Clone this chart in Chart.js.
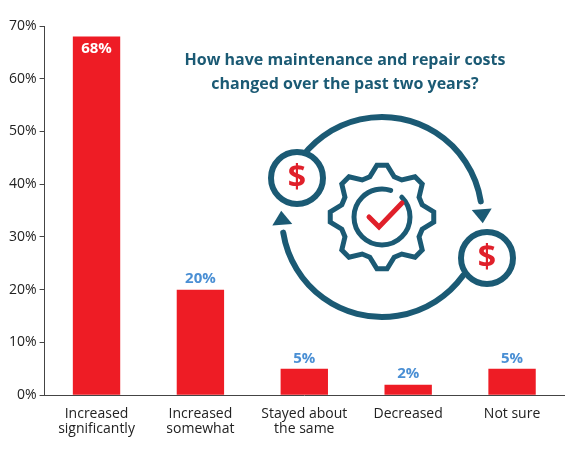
<!DOCTYPE html>
<html><head><script src="https://cdn.jsdelivr.net/npm/chart.js@4"></script>
<style>html,body{margin:0;background:#fff}#w{width:579px;height:450px}</style></head>
<body><div id="w"><canvas id="c"></canvas></div>
<script>
const categories=[["Increased","significantly"],["Increased","somewhat"],["Stayed about","the same"],["Decreased"],["Not sure"]];
const values=[68,20,5,2,5];
const TEAL='#1b5a74';
const FONT='"Liberation Sans Narrow", "Open Sans", sans-serif';
const decor={id:'decor',afterDraw(ch){
 const c=ch.ctx;c.save();
 const m=ch.getDatasetMeta(0);
 c.font='bold 15px "Open Sans", sans-serif';c.textAlign='center';
 m.data.forEach((b,i)=>{
  if(i===0){c.fillStyle='#fff';c.textBaseline='top';c.fillText(values[i]+'%',b.x,b.y+5);}
  else{c.fillStyle='#4a8fd4';c.textBaseline='bottom';c.fillText(values[i]+'%',b.x,b.y-3);}
 });
 c.fillStyle=TEAL;c.font='bold 16px "Open Sans", sans-serif';c.textBaseline='middle';
 c.fillText('How have maintenance and repair costs',345,60);
 c.fillText('changed over the past two years?',345,84);
 const cx=382,cy=217;
 c.strokeStyle=TEAL;c.lineWidth=6;c.lineCap='round';
 const R=100;
 c.beginPath();c.arc(cx,cy,R,-Math.PI*0.82,-Math.PI*0.05);c.stroke();
 c.beginPath();c.arc(cx,cy,R,Math.PI*0.2,Math.PI*0.95);c.stroke();
 function head(a,dir){const x=cx+R*Math.cos(a),y=cy+R*Math.sin(a);const t=a+dir*Math.PI/2;
  c.fillStyle=TEAL;c.beginPath();
  c.moveTo(x+14*Math.cos(t),y+14*Math.sin(t));
  c.lineTo(x+10*Math.cos(a),y+10*Math.sin(a));c.lineTo(x-10*Math.cos(a),y-10*Math.sin(a));c.closePath();c.fill();}
 head(-Math.PI*0.05+0.08,1);head(Math.PI*0.95+0.08,1);
 c.lineWidth=5;c.beginPath();
 const n=8,ro=52,ri=42;
 for(let i=0;i<n*4;i++){const a=i*Math.PI*2/(n*4)-Math.PI/(n*4);const r=(Math.floor(i/2)%2===0)?ro:ri;
  const x=cx+r*Math.cos(a),y=cy+r*Math.sin(a);if(i)c.lineTo(x,y);else c.moveTo(x,y);}
 c.closePath();c.stroke();
 c.beginPath();c.arc(cx,cy,28,-Math.PI*0.25,Math.PI*1.6);c.stroke();
 c.strokeStyle='#e0202a';c.lineWidth=5;c.beginPath();c.moveTo(cx-13,cy);c.lineTo(cx-3,cy+10);c.lineTo(cx+20,cy-14);c.stroke();
 [[297,178],[487,258]].forEach(([x,y])=>{
  c.fillStyle='#fff';c.strokeStyle=TEAL;c.lineWidth=6;c.beginPath();c.arc(x,y,26,0,Math.PI*2);c.fill();c.stroke();
  c.fillStyle='#e0202a';c.font='bold 32px "Open Sans", sans-serif';c.textAlign='center';c.textBaseline='middle';c.fillText('$',x,y+1);
 });
 c.restore();}};
new Chart(document.getElementById('c'),{type:'bar',
 data:{labels:categories,datasets:[{data:values,backgroundColor:'#ee1c25',barPercentage:0.95,categoryPercentage:0.48}]},
 options:{responsive:true,maintainAspectRatio:false,animation:false,
  layout:{padding:{top:26,right:15,left:6,bottom:10}},
  plugins:{legend:{display:false},tooltip:{enabled:false}},
  scales:{y:{min:0,max:70,ticks:{stepSize:10,callback:v=>v+'%',color:'#222',font:{size:14,family:FONT}},
    grid:{drawOnChartArea:false,color:'#444',tickLength:5},border:{color:'#444'}},
   x:{ticks:{color:'#222',font:{size:14,family:FONT,lineHeight:1.1},maxRotation:0},grid:{display:false},border:{color:'#444'}}}},
 plugins:[decor]});
</script></body></html>
